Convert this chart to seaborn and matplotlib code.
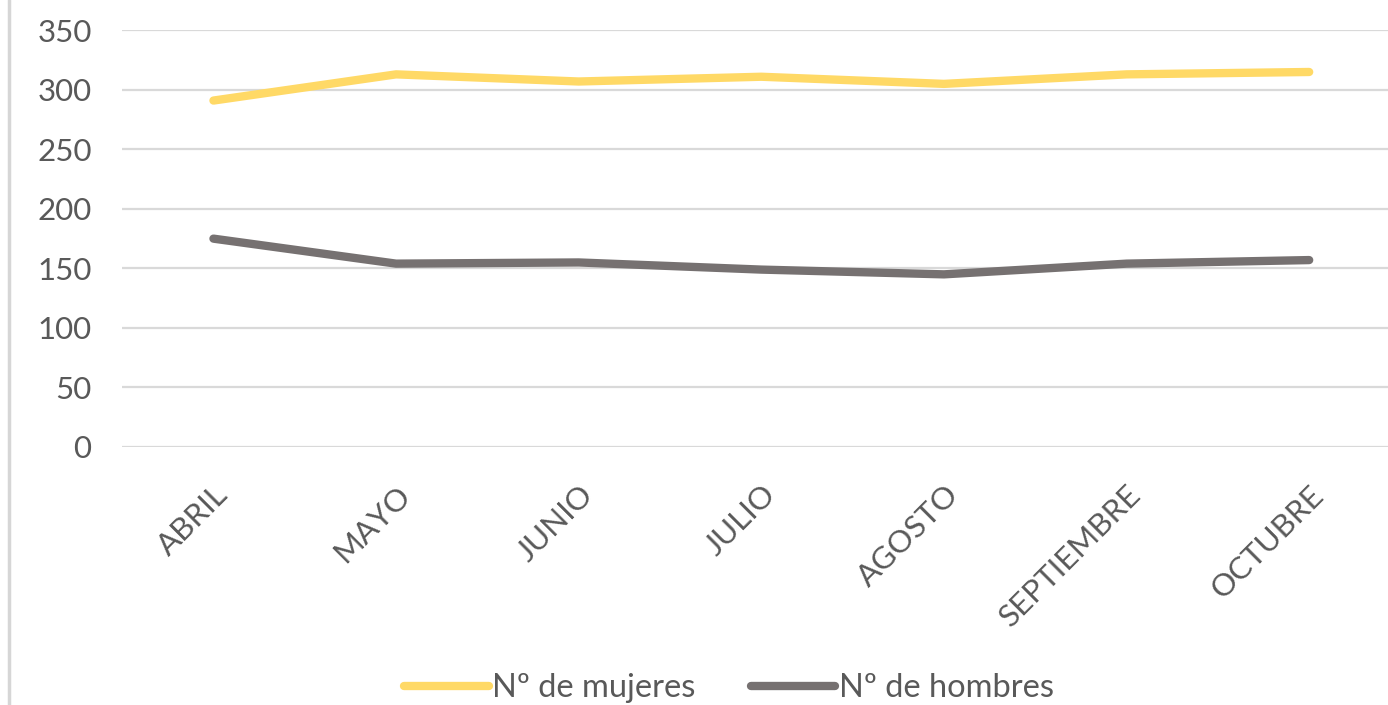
import pandas as pd
import matplotlib.pyplot as plt
import seaborn as sns

# ── Data ──────────────────────────────────────────────────────────────────────
meses = ['ABRIL', 'MAYO', 'JUNIO', 'JULIO', 'AGOSTO', 'SEPTIEMBRE', 'OCTUBRE']
mujeres = [291, 313, 307, 311, 305, 313, 315]
hombres = [175, 154, 155, 149, 145, 154, 157]
series = ['Nº de mujeres', 'Nº de hombres']

df = pd.DataFrame({
    'mes': meses * 2,
    'valor': mujeres + hombres,
    'serie': [series[0]] * len(meses) + [series[1]] * len(meses),
})

YELLOW, GRAY = '#FFD966', '#767171'
TEXT = '#595959'

# ── Plot ──────────────────────────────────────────────────────────────────────
sns.set_theme(style='white')
plt.rcParams['font.family'] = ['Lato', 'DejaVu Sans']

fig = plt.figure(figsize=(13.88, 7.05), dpi=100)
ax = fig.add_axes([0.088, 0.366, 0.921, 0.591])

sns.lineplot(data=df, x='mes', y='valor', hue='serie', sort=False,
             palette={series[0]: YELLOW, series[1]: GRAY},
             linewidth=6, legend=False, ax=ax, zorder=3)
for line in ax.lines:
    line.set_solid_capstyle('round')
    line.set_solid_joinstyle('round')

ax.set_xlim(-0.5, len(meses) - 0.5)
ax.set_ylim(0, 350)
ax.set_yticks(range(0, 351, 50))
ax.yaxis.grid(True, color='#D9D9D9', linewidth=1.6, zorder=0)
ax.set_axisbelow(True)
for s in ax.spines.values():
    s.set_visible(False)
ax.set_xlabel('')
ax.set_ylabel('')
ax.tick_params(axis='both', length=0, colors=TEXT, labelsize=22.5)
ax.tick_params(axis='y', pad=22)
ax.tick_params(axis='x', pad=24)
plt.setp(ax.get_xticklabels(), rotation=45, ha='right', rotation_mode='anchor')

handles = [plt.Line2D([], [], color=c, linewidth=6, solid_capstyle='round')
           for c in (YELLOW, GRAY)]
leg = fig.legend(handles, series, loc='center', bbox_to_anchor=(0.525, 0.024),
                 ncol=2, frameon=False, fontsize=23.5, handlelength=2.6,
                 handletextpad=0.1, columnspacing=1.7)
for t in leg.get_texts():
    t.set_color(TEXT)

# thin frame edge on the left, as in the screenshot
fig.add_artist(plt.Line2D([0.0068, 0.0068], [0, 1], color='#D6D6D6', linewidth=2.5))

plt.savefig('out.png', dpi=100)
